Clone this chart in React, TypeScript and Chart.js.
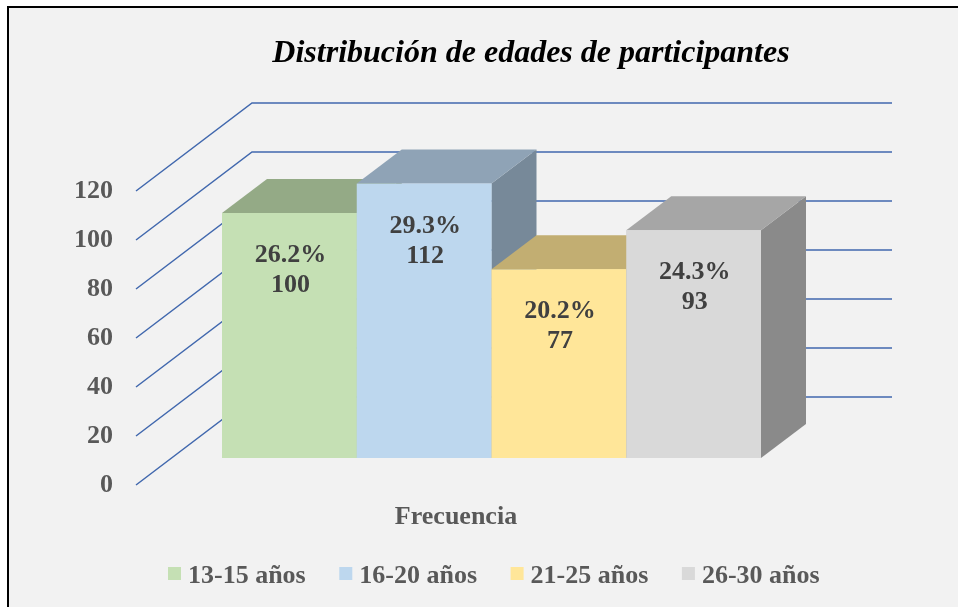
import React, { useEffect, useRef } from 'react';
import { Chart, registerables } from 'chart.js';

Chart.register(...registerables);

// ---- data ----
const categories = ['Frecuencia'];
const seriesNames = ['13-15 años', '16-20 años', '21-25 años', '26-30 años'];
const counts = [100, 112, 77, 93];
const percentLabels = ['26.2%', '29.3%', '20.2%', '24.3%'];
const yMin = 0;
const yMax = 120;
const yStep = 20;
const titleText = 'Distribución de edades de participantes';

// ---- styles ----
const frontColors = ['#C5E0B4', '#BDD7EE', '#FFE699', '#D9D9D9'];
const topColors = ['#94AA86', '#8FA3B6', '#C2AE72', '#A6A6A6'];
const sideColors = ['#7E9271', '#778999', '#A49361', '#8A8A8A'];
const FONT = "'Liberation Serif', 'Times New Roman', serif";
const GRID_COLOR = '#4168AE';
const TEXT_GRAY = '#595959';
const LABEL_DARK = '#404040';

const DEPTH_X = 45;
const DEPTH_Y = -34;
const FRONT_OFFSET = 27;
const WALL_DX = 116;
const WALL_DY = -88;
const GRID_RIGHT = 892;

const threeDPlugin = {
  id: 'threeD',
  beforeDraw(chart: any) {
    const ctx = chart.ctx;
    ctx.save();
    ctx.fillStyle = '#FFFFFF';
    ctx.fillRect(0, 0, chart.width, chart.height);
    ctx.fillStyle = '#F2F2F2';
    ctx.fillRect(8, 7, chart.width, chart.height);
    ctx.strokeStyle = '#000000';
    ctx.lineWidth = 2;
    ctx.strokeRect(8, 7, chart.width + 20, chart.height + 20);
    ctx.restore();
  },
  beforeDatasetsDraw(chart: any) {
    const ctx = chart.ctx;
    const ys = chart.scales.y;
    const x0 = chart.chartArea.left;
    ctx.save();
    ctx.strokeStyle = GRID_COLOR;
    ctx.lineWidth = 1.5;
    ys.ticks.forEach((t: any) => {
      const fy = ys.getPixelForValue(t.value) + FRONT_OFFSET;
      ctx.beginPath();
      ctx.moveTo(x0, fy);
      ctx.lineTo(x0 + WALL_DX, fy + WALL_DY);
      ctx.lineTo(GRID_RIGHT, fy + WALL_DY);
      ctx.stroke();
    });
    ctx.restore();
  },
  afterDatasetsDraw(chart: any) {
    const ctx = chart.ctx;
    ctx.save();
    const bars: any[] = [];
    chart.data.datasets.forEach((_d: any, i: number) => {
      const el = chart.getDatasetMeta(i).data[0];
      const { x, y, base, width } = el.getProps(['x', 'y', 'base', 'width'], true);
      const L = x - width / 2;
      const R = x + width / 2;
      const T = y;
      const B = base;
      bars.push({ x, T });
      // side
      ctx.fillStyle = sideColors[i];
      ctx.beginPath();
      ctx.moveTo(R, T);
      ctx.lineTo(R + DEPTH_X, T + DEPTH_Y);
      ctx.lineTo(R + DEPTH_X, B + DEPTH_Y);
      ctx.lineTo(R, B);
      ctx.closePath();
      ctx.fill();
      // top
      ctx.fillStyle = topColors[i];
      ctx.beginPath();
      ctx.moveTo(L, T);
      ctx.lineTo(R, T);
      ctx.lineTo(R + DEPTH_X, T + DEPTH_Y);
      ctx.lineTo(L + DEPTH_X, T + DEPTH_Y);
      ctx.closePath();
      ctx.fill();
      // front
      ctx.fillStyle = frontColors[i];
      ctx.fillRect(L, T, R - L, B - T);
    });
    ctx.fillStyle = LABEL_DARK;
    ctx.font = `bold 26px ${FONT}`;
    ctx.textAlign = 'center';
    ctx.textBaseline = 'alphabetic';
    bars.forEach((b, i) => {
      ctx.fillText(percentLabels[i], b.x + 1, b.T + 49);
      ctx.fillText(String(counts[i]), b.x + 1, b.T + 79);
    });
    ctx.restore();
  },
  afterDraw(chart: any) {
    const ctx = chart.ctx;
    ctx.save();
    // title
    ctx.fillStyle = '#000000';
    ctx.font = `italic bold 32px ${FONT}`;
    ctx.textAlign = 'center';
    ctx.textBaseline = 'alphabetic';
    ctx.fillText(titleText, 531, 62);
    // category axis title
    ctx.fillStyle = TEXT_GRAY;
    ctx.font = `bold 26px ${FONT}`;
    ctx.fillText(categories[0], 456, 524);
    // legend
    ctx.textAlign = 'left';
    seriesNames.forEach((name, i) => {
      const sx = 168 + i * 171.3;
      ctx.fillStyle = frontColors[i];
      ctx.fillRect(sx, 567, 13, 13);
      ctx.fillStyle = TEXT_GRAY;
      ctx.fillText(name, sx + 20, 583);
    });
    ctx.restore();
  },
};

export default function App() {
  const canvasRef = useRef<HTMLCanvasElement | null>(null);

  useEffect(() => {
    if (!canvasRef.current) return;
    const chart = new Chart(canvasRef.current, {
      type: 'bar',
      data: {
        labels: categories,
        datasets: seriesNames.map((name, i) => ({
          label: name,
          data: [counts[i]],
          backgroundColor: frontColors[i],
          borderWidth: 0,
          categoryPercentage: 539 / 711,
          barPercentage: 1,
        })),
      },
      options: {
        animation: false,
        responsive: true,
        maintainAspectRatio: false,
        layout: { padding: { left: 74, right: 111, top: 164, bottom: 149 } },
        plugins: {
          legend: { display: false },
          title: { display: false },
          tooltip: { enabled: false },
        },
        scales: {
          x: { type: 'category', display: false },
          y: {
            min: yMin,
            max: yMax,
            grid: { display: false, drawTicks: false },
            border: { display: false },
            afterFit: (scale: any) => {
              scale.width = 62;
            },
            ticks: {
              stepSize: yStep,
              padding: 23,
              labelOffset: FRONT_OFFSET,
              color: TEXT_GRAY,
              font: { family: FONT, size: 26, weight: 'bold' },
            },
          },
        },
      },
      plugins: [threeDPlugin],
    } as any);
    return () => chart.destroy();
  }, []);

  return (
    <div style={{ position: 'fixed', left: 0, top: 0, width: 958, height: 607 }}>
      <canvas ref={canvasRef} />
    </div>
  );
}
